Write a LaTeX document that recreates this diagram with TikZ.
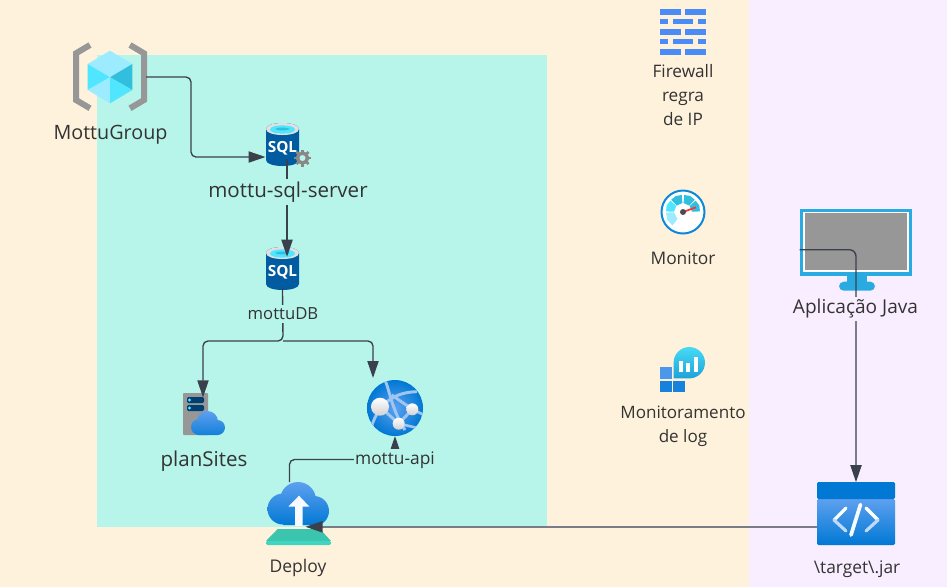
\documentclass[tikz,border=0pt]{standalone}
\usepackage{fontspec}
\setmainfont{Open Sans}
\usetikzlibrary{arrows.meta,calc}
\definecolor{bgbeige}{HTML}{FFF2DC}
\definecolor{bgpink}{HTML}{F9EEFF}
\definecolor{bgteal}{HTML}{B7F5EB}
\definecolor{conn}{HTML}{3B404D}
\definecolor{conngray}{HTML}{7A7C88}
\definecolor{labtext}{HTML}{333333}
\definecolor{azdark}{HTML}{005BA1}
\definecolor{azblue}{HTML}{0078D4}
\definecolor{azlight}{HTML}{5EA0EF}
\definecolor{cyanA}{HTML}{50E6FF}
\definecolor{cyanB}{HTML}{9CEBFF}
\definecolor{cyanC}{HTML}{32BEDD}
\definecolor{iconGray}{HTML}{979797}
\definecolor{fwblue}{HTML}{4B8BF5}
\definecolor{screenblue}{HTML}{29ABE2}
\definecolor{baseTop}{HTML}{3BC4AE}
\definecolor{baseBot}{HTML}{3ED6C0}
\definecolor{globeline}{HTML}{9FC6F0}
\tikzset{
  x=0.75pt,y=-0.75pt,
  iconbox/.style={minimum width=#1,inner sep=0pt,outer sep=0pt,draw=none},
  connector/.style={draw=conn,line width=1pt,rounded corners=3.75pt,-{Triangle[length=12.75pt,width=8.4pt,fill=conn,color=conn]}},
  lab/.style={text=labtext,inner sep=0pt,align=center,font=\fontsize{#1}{18}\selectfont},
  masked/.style={fill=#1,inner xsep=0.5pt,inner ysep=2pt},
  sphere/.style={top color=white,bottom color=black!18},
}
\newcommand{\SqlIcon}{%
  \shade[left color=azdark,middle color=azblue,right color=azdark]
    (0,6) -- (0,37) .. controls (0,45) and (33,45) .. (33,37) -- (33,6)
    .. controls (33,-2) and (0,-2) .. (0,6) -- cycle;
  \fill[white!88!black] (0,6) .. controls (0,-2) and (33,-2) .. (33,6) .. controls (33,14) and (0,14) .. (0,6) -- cycle;
  \fill[cyanA] (4,6.5) .. controls (4,1) and (29,1) .. (29,6.5) .. controls (29,12) and (4,12) .. (4,6.5) -- cycle;
  \fill[cyanC] (9,6) .. controls (12,4) and (21,4) .. (24,6) .. controls (21,8) and (12,8) .. (9,6) -- cycle;
  \node[text=white,inner sep=0pt,font=\fontsize{11.5}{12}\selectfont\bfseries] at (16.5,25) {SQL};
}
\begin{document}
\begin{tikzpicture}
\useasboundingbox (0,0) rectangle (947,587);
% backgrounds
\fill[bgbeige] (0,0) rectangle (749,587);
\fill[bgpink] (749,0) rectangle (947,587);
\fill[bgteal] (97,55) rectangle (547,527);

% invisible icon anchors
\node[iconbox=54pt,minimum height=47pt] (group) at (110,77) {};
\node[iconbox=25.5pt,minimum height=32pt] (server) at (282.5,144.5) {};
\node[iconbox=25.5pt,minimum height=32pt] (db) at (282.5,268) {};
\node[iconbox=31pt,minimum height=31pt] (sites) at (204,414) {};
\node[iconbox=42pt,minimum height=42pt] (api) at (395,408) {};
\node[iconbox=49pt,minimum height=47pt] (deploy) at (298.5,513.5) {};
\node[iconbox=85pt,minimum height=61pt] (pc) at (856,250) {};
\node[iconbox=58.5pt,minimum height=47pt] (jar) at (856,513.5) {};

% resource group icon
\begin{scope}[line width=4.5pt,miter limit=10]
  \draw[iconGray] (90,45) -- (76,53.3) -- (76,100) -- (90,108.3);
  \draw[iconGray] (130,45) -- (144,53.3) -- (144,100) -- (130,108.3);
\end{scope}
\fill[cyanB] (110,50.7) -- (132.3,64) -- (110,77.3) -- (87.7,64) -- cycle;
\fill[cyanA] (87.7,64) -- (110,77.3) -- (87.7,90) -- cycle;
\fill[cyanC] (132.3,64) -- (110,77.3) -- (132.3,90) -- cycle;
\fill[cyanB] (87.7,90) -- (110,77.3) -- (110,103.3) -- cycle;
\fill[cyanA] (132.3,90) -- (110,77.3) -- (110,103.3) -- cycle;

% sql icons
\begin{scope}[shift={(266,123)}]\SqlIcon\end{scope}
\begin{scope}[shift={(266,247)}]\SqlIcon\end{scope}
% gear
\begin{scope}[shift={(302.5,158)}]
  \foreach \a in {0,45,...,315}{\draw[iconGray!90!black,line width=2pt] (\a:5) -- (\a:8.5);}
  \draw[iconGray!90!black,line width=2.6pt] (0,0) circle[radius=5];
\end{scope}

% plan icon
\fill[iconGray,rounded corners=0.6pt] (183,393) rectangle (208,435);
\fill[azdark!70!black,rounded corners=1pt] (187,397) rectangle (204,403);
\fill[azdark!70!black,rounded corners=1pt] (187,405) rectangle (204,411);
\fill[cyanA] (189.5,400) circle[radius=1.6];
\fill[cyanA] (189.5,408) circle[radius=1.6];
\shade[top color=azlight,bottom color=azblue!80!azlight]
  (207.5,421.5) circle[radius=10.5] (199,427) circle[radius=8] (217.5,427.5) circle[radius=7.5] (199,435) rectangle (217.5,424);

% globe
\shade[inner color=azlight,outer color=azblue] (395,408) circle[radius=28];
\begin{scope}
  \clip (395,408) circle[radius=28];
  \draw[globeline,line width=2.2pt] (385,380) .. controls (390,392) and (392,410) .. (405,430);
  \draw[globeline,line width=2.2pt] (417,391.7) .. controls (398,392) and (380,400) .. (371.7,426);
  \draw[globeline,line width=2.2pt] (380,406.7) -- (398.7,423.7) -- (412.3,409.3) -- (391.7,395);
  \draw[globeline,line width=2pt] (412.3,409.3) -- (424,415);
  \draw[globeline,line width=2pt] (398.7,423.7) -- (418,428);
\end{scope}
\shade[sphere] (380,406.7) circle[radius=9];
\shade[sphere] (412.3,409.3) circle[radius=6];
\shade[sphere] (398.7,423.7) circle[radius=6];

% deploy icon
\shade[top color=azlight,bottom color=azblue]
  (298,500) circle[radius=18] (283,509) circle[radius=15.5] (314,511) circle[radius=15] (283,525) rectangle (314,505);
\fill[white!95!azlight] (299,495.7) -- (309.5,506.7) -- (302.5,506.7) -- (302.5,526) -- (295,526) -- (295,506.7) -- (288.3,506.7) -- cycle;
\fill[baseTop] (277.7,529) -- (320,529) -- (331,541) -- (266,541) -- cycle;
\fill[baseBot,rounded corners=1pt] (266,541) rectangle (331,545);

% firewall
\foreach \yy in {9,29.3,49.3}{
  \fill[fwblue] (660,\yy) rectangle (681,\yy+5.7);
  \fill[fwblue] (685,\yy) rectangle (706,\yy+5.7);
}
\foreach \yy in {19,39}{
  \fill[fwblue] (660,\yy) rectangle (668,\yy+5.4);
  \fill[fwblue] (673,\yy) rectangle (693,\yy+5.4);
  \fill[fwblue] (698,\yy) rectangle (706,\yy+5.4);
}

% gauge
\begin{scope}[shift={(683,212)}]
  \fill[white] (0,0) circle[radius=22];
  \draw[azblue!85!cyanA,line width=1.5pt] (0,0) circle[radius=21.5];
  \foreach \aa/\bb/\cc in {2/42/cyanC,46/86/cyanC,94/134/cyanC,138/178/cyanA,182/232/cyanB}{
    \fill[\cc] (-\aa:9) -- (-\aa:17) -- ({-(\aa+\bb)/2}:17.6) -- (-\bb:17) -- (-\bb:9) -- cycle;
  }
  \draw[red!80!white,line width=1.3pt] (0,0) -- (13,-4.7);
  \fill[black!70] (0,0) circle[radius=3];
\end{scope}

% log analytics
\fill[azlight!80!azblue] (660,367) rectangle (672.3,379.3);
\fill[azblue!75!azlight] (660,380.7) rectangle (672.3,392.3);
\fill[azblue!75!azlight] (673.3,380.7) rectangle (685,392.3);
\shade[top color=cyanA!70!cyanC,bottom color=cyanC!60!azblue]
  (689.3,362.7) circle[radius=15.7] (673.6,378.4) rectangle (689.3,362.7);
\fill[white] (679,360.7) rectangle (683,371.7);
\fill[white] (686.3,363.3) rectangle (690.3,371.7);
\fill[white] (693.7,357.3) rectangle (697.7,371.7);

% monitor
\fill[screenblue] (846.7,275) rectangle (867.3,283);
\fill[screenblue,rounded corners=3.5pt] (839,281.7) rectangle (875,290.7);
\fill[screenblue] (799.7,209) rectangle (912.3,275.7);
\fill[white] (803,211.7) rectangle (908.7,271.7);
\fill[iconGray] (805,213) rectangle (907,270.3);

% code icon
\shade[top color=azlight,bottom color=azblue,rounded corners=1pt] (817,499) rectangle (895,545);
\fill[azblue,rounded corners=1pt] (817,482) rectangle (895,499);
\begin{scope}[line cap=round,line join=miter,line width=2.4pt]
  \draw[white] (846,508) -- (834,520);
  \draw[white!60!azlight] (834,520) -- (846,531);
  \draw[white] (866,508) -- (878,520);
  \draw[white!60!azlight] (878,520) -- (866,531);
  \draw[white!95!azlight,line width=2.8pt] (860.5,504.5) -- (851,535);
\end{scope}

% connectors
\coordinate (bendA) at (191,157);
\coordinate (splitB) at (283,341);
\coordinate (leftB) at (203,341);
\coordinate (rightB) at (373,341);
\coordinate (bendD) at (289.5,459.5);
\coordinate (pcstart) at (799.7,249.7);
\draw[connector] (group.east) -| (bendA) -- (bendA -| server.west);
\draw[connector] ([xshift=3.4pt,yshift=5pt]server.south) -- ([xshift=3.4pt,yshift=-7.5pt]db.north);
\draw[connector] ([yshift=1.5pt]db.south) -- (splitB) -- (leftB) -- ([yshift=-3pt]sites.north -| leftB);
\draw[connector] (splitB) -- (rightB) -- ([yshift=1.5pt]api.north -| rightB);
\draw[connector] (deploy.north -| bendD) -- (bendD) -- (bendD -| api.south) -- (api.south);
\draw[draw=conn,line width=1pt,rounded corners=5pt,-{Triangle[length=12.75pt,width=8.4pt,fill=conn,color=conn]}] (pcstart) -| (jar.north);
\draw[draw=conngray,line width=1.1pt,-{Triangle[length=12.75pt,width=8.4pt,fill=conn,color=conn]}] (jar.west |- 817,526.8) -- (305.5,526.8);

% labels
\node[lab=14.8] (tGroup) at (110.5,135) {MottuGroup};
\node[lab=15.4,masked=bgteal] (tServer) at (288,192) {mottu-sql-server};
\node[lab=12.5,masked=bgteal] (tDb) at (283,314) {mottuDB};
\node[lab=15.4] (tSites) at (204,461) {planSites};
\node[lab=13,masked=bgteal] (tApi) at (395,460) {mottu-api};
\node[lab=13.1] (tDeploy) at (298,568) {Deploy};
\node[lab=12.9] (tFw) at (683,95.5) {Firewall\\regra\\de IP};
\node[lab=13] (tMon) at (683,258) {Monitor};
\node[lab=12.8] (tLog) at (683,426.5) {Monitoramento\\de log};
\node[lab=14.3,masked=bgpink] (tPc) at (855.5,309) {Aplicação Java};
\node[lab=13] (tJar) at (857,569) {\textbackslash target\textbackslash .jar};
\end{tikzpicture}
\end{document}
